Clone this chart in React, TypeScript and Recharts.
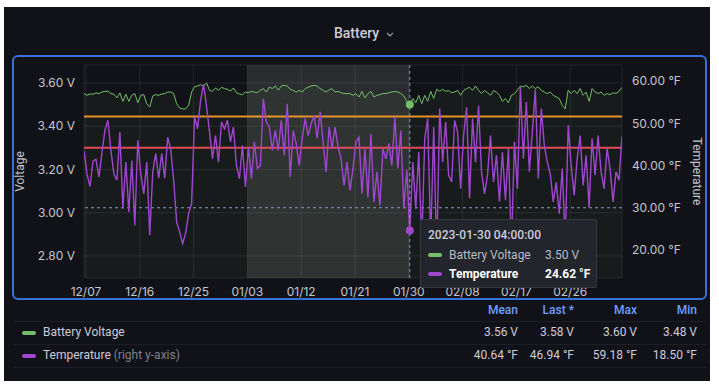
import React from "react";
import {
  ComposedChart,
  Area,
  Line,
  XAxis,
  YAxis,
  CartesianGrid,
  Tooltip,
  ReferenceLine,
  ReferenceArea,
} from "recharts";

// 12h samples starting 2022-12-06 16:00 UTC
const START = Date.UTC(2022, 11, 6, 16, 0, 0);
const STEP = 12 * 3600 * 1000;

const tickDates = [
  "2022-12-07", "2022-12-16", "2022-12-25", "2023-01-03", "2023-01-12",
  "2023-01-21", "2023-01-30", "2023-02-08", "2023-02-17", "2023-02-26",
];

const voltageTicks = [2.8, 3.0, 3.2, 3.4, 3.6];
const tempTicks = [20, 30, 40, 50, 60];

const voltage = [
  3.551, 3.543, 3.549, 3.548, 3.554, 3.551, 3.558, 3.561, 3.563, 3.551,
  3.548, 3.531, 3.554, 3.515, 3.548, 3.515, 3.543, 3.551, 3.509, 3.543,
  3.546, 3.504, 3.489, 3.54, 3.546, 3.543, 3.549, 3.551, 3.558, 3.558,
  3.551, 3.504, 3.484, 3.48, 3.48, 3.497, 3.558, 3.583, 3.586, 3.592,
  3.586, 3.6, 3.566, 3.561, 3.577, 3.566, 3.58, 3.574, 3.571, 3.563,
  3.577, 3.555, 3.549, 3.546, 3.558, 3.555, 3.561, 3.558, 3.555, 3.566,
  3.574, 3.558, 3.581, 3.574, 3.586, 3.567, 3.586, 3.589, 3.586, 3.571,
  3.566, 3.558, 3.566, 3.558, 3.574, 3.58, 3.586, 3.589, 3.586, 3.574,
  3.566, 3.558, 3.568, 3.574, 3.558, 3.561, 3.555, 3.551, 3.551, 3.551,
  3.543, 3.551, 3.535, 3.561, 3.531, 3.551, 3.561, 3.535, 3.543, 3.546,
  3.551, 3.551, 3.555, 3.558, 3.561, 3.558, 3.551, 3.54, 3.515, 3.5,
  3.528, 3.509, 3.543, 3.504, 3.543, 3.515, 3.561, 3.528, 3.571, 3.561,
  3.571, 3.561, 3.565, 3.555, 3.558, 3.566, 3.543, 3.565, 3.574, 3.58,
  3.566, 3.586, 3.566, 3.551, 3.565, 3.555, 3.543, 3.565, 3.558, 3.543,
  3.515, 3.528, 3.509, 3.543, 3.551, 3.566, 3.586, 3.582, 3.589, 3.574,
  3.586, 3.574, 3.582, 3.566, 3.558, 3.551, 3.558, 3.543, 3.535, 3.528,
  3.497, 3.48, 3.566, 3.551, 3.566, 3.551, 3.574, 3.543, 3.558, 3.515,
  3.574, 3.558, 3.551, 3.558, 3.543, 3.551, 3.546, 3.555, 3.551, 3.561,
  3.58,
];

const temperature = [
  43.5, 38, 35, 41, 41.5, 37.3, 43, 48.3, 50.7, 43.6,
  38, 36.5, 47.9, 29.8, 40.8, 29, 41.2, 25.8, 46, 38,
  33.3, 40.8, 23.5, 38.5, 42.8, 37, 42.8, 37, 46.7, 44,
  36.5, 26.6, 24.3, 21.5, 24, 28.6, 31, 51.5, 48.7, 55.4,
  59.18, 54, 47.9, 41.6, 47.1, 40.8, 50.3, 48.7, 50.7, 45.6,
  49.1, 40, 36.9, 44.8, 34.9, 44.4, 36.9, 45.6, 39.3, 40,
  55.8, 50.3, 49.1, 43.6, 48.3, 43.6, 50.7, 42.4, 54.6, 37.3,
  48.3, 45.2, 40, 46.4, 51.1, 47.1, 49.9, 51.9, 46.4, 52.7,
  45.6, 38.5, 49.1, 44, 49.1, 44.4, 41.6, 35.3, 40.8, 34.1,
  39.3, 45.6, 46.7, 33.3, 44, 32.5, 47.5, 31.4, 38.5, 30.6,
  44, 41.6, 45.2, 40, 51.5, 39.3, 48.3, 29.8, 38.9, 24.62,
  40.8, 29.8, 43.2, 21, 46.4, 51.1, 22, 49.1, 18.5, 53.5,
  40.8, 50.3, 37.7, 36.1, 50.7, 47.9, 34.5, 47.1, 53.8, 32.2,
  51.1, 40.8, 54.2, 38.5, 33.3, 37.7, 47.1, 36.1, 42.4, 31.4,
  43.2, 31.8, 44, 20, 45.6, 34.5, 58.6, 41.6, 55, 38.5,
  47.9, 58, 36.9, 53.5, 44.8, 40.8, 38, 31.4, 36, 28.6,
  39.3, 22, 49.5, 40, 33, 41.6, 47.1, 35.3, 42.4, 30,
  46.4, 37.7, 47.1, 38.5, 34.5, 44, 39.3, 31.4, 38.5, 36.5,
  46.94,
];

const highlightFrom = "2023-01-03T00:00:00Z";
const hoverIndex = 109; // 2023-01-30 04:00
const crosshairTemp = 30;
const thresholdHigh = 3.445;
const thresholdLow = 3.3;

const statNames = ["Mean", "Last *", "Max", "Min"];
const voltageStats = ["3.56 V", "3.58 V", "3.60 V", "3.48 V"];
const tempStats = ["40.64 °F", "46.94 °F", "59.18 °F", "18.50 °F"];

const FONT = "Roboto, 'Noto Sans', sans-serif";
const TICK_FONT = "Inter, Roboto, sans-serif";
const TEXT = "#ccccdc";
const AXIS_TEXT = "#c4c5cd";
const GREEN = "#73bf69";
const PURPLE = "#a047d0";
const BG = "#111217";

const pad = (n: number) => String(n).padStart(2, "0");
const fmtTick = (t: number) => {
  const d = new Date(t);
  return `${pad(d.getUTCMonth() + 1)}/${pad(d.getUTCDate())}`;
};
const fmtFull = (t: number) => {
  const d = new Date(t);
  return `${d.getUTCFullYear()}-${pad(d.getUTCMonth() + 1)}-${pad(d.getUTCDate())} ${pad(
    d.getUTCHours()
  )}:${pad(d.getUTCMinutes())}:${pad(d.getUTCSeconds())}`;
};

function Swatch({ color }: { color: string }) {
  return (
    <span
      style={{
        display: "inline-block",
        width: 14,
        height: 4,
        borderRadius: 2,
        background: color,
        marginRight: 7,
        verticalAlign: "middle",
        flex: "none",
      }}
    />
  );
}

function HoverBox(props: any) {
  const { active, payload, label } = props;
  if (!active || !payload || !payload.length) return null;
  const row = payload[0].payload;
  return (
    <div
      style={{
        width: 177,
        height: 69,
        boxSizing: "border-box",
        background: "#22252b",
        border: "1px solid rgba(204,204,220,0.12)",
        borderRadius: 2,
        padding: "7px 7px",
        fontFamily: FONT,
        fontSize: 12,
        color: TEXT,
        whiteSpace: "nowrap",
      }}
    >
      <div style={{ lineHeight: "16px", fontWeight: 500, marginBottom: 2 }}>{fmtFull(label)}</div>
      <div style={{ display: "flex", alignItems: "center", height: 19, color: "#b9bac3" }}>
        <Swatch color={GREEN} />
        <span style={{ width: 96, flex: "none" }}>Battery Voltage</span>
        <span>{row.voltage.toFixed(2)} V</span>
      </div>
      <div style={{ display: "flex", alignItems: "center", height: 19, color: "#fff", fontWeight: 700 }}>
        <Swatch color={PURPLE} />
        <span style={{ width: 96, flex: "none" }}>Temperature</span>
        <span>{row.temperature.toFixed(2)} °F</span>
      </div>
    </div>
  );
}

const axisTitle = (text: string, side: "left" | "right") => (props: any) => {
  const vb = props.viewBox;
  const cx = side === "left" ? vb.x - 4 : vb.x + vb.width + 15;
  const cy = vb.y + vb.height / 2;
  return (
    <text
      x={cx}
      y={cy}
      transform={`rotate(${side === "left" ? -90 : 90} ${cx} ${cy})`}
      textAnchor="middle"
      dominantBaseline="central"
      fill={AXIS_TEXT}
      fontSize={12}
      fontFamily={FONT}
    >
      {text}
    </text>
  );
};

export default function App() {
  const data = voltage.map((v, i) => ({
    t: START + i * STEP,
    voltage: v,
    temperature: temperature[i],
  }));
  const end = START + (voltage.length - 1) * STEP;
  const ticks = tickDates.map((d) => Date.parse(d + "T00:00:00Z"));
  const tickStyle = { fill: AXIS_TEXT, fontSize: 12, fontFamily: TICK_FONT };

  const colRight = [518, 574, 637, 697];

  return (
    <div style={{ position: "relative", width: 719, height: 391, background: "#fff", fontFamily: FONT }}>
      <style>{"body{margin:0}"}</style>
      <div style={{ position: "absolute", left: 4, top: 7, width: 706, height: 374, background: BG }} />
      <div
        style={{
          position: "absolute",
          left: 0,
          width: 719,
          top: 24,
          paddingLeft: 10,
          boxSizing: "border-box",
          textAlign: "center",
          color: TEXT,
          fontSize: 14,
          fontWeight: 500,
          lineHeight: "18px",
        }}
      >
        Battery
        <svg width="10" height="10" viewBox="0 0 10 10" style={{ marginLeft: 6, verticalAlign: "middle" }}>
          <path d="M2 4 L5 7 L8 4" stroke="#9a9ba4" strokeWidth="1.2" fill="none" />
        </svg>
      </div>
      <div
        style={{
          position: "absolute",
          left: 12,
          top: 55,
          width: 695,
          height: 245,
          boxSizing: "border-box",
          border: "2px solid #3871dc",
          borderRadius: 6,
        }}
      />
      <div style={{ position: "absolute", left: 0, top: 0 }}>
        <ComposedChart
          width={719}
          height={391}
          data={data}
          margin={{ top: 65, right: 37, bottom: 83, left: 24 }}
        >
          <CartesianGrid yAxisId="left" stroke="rgba(204,204,220,0.1)" />
          <XAxis
            dataKey="t"
            type="number"
            domain={[START, end]}
            ticks={ticks}
            interval={0}
            tickFormatter={fmtTick}
            axisLine={false}
            tickLine={false}
            tickSize={0}
            tickMargin={9}
            height={30}
            tick={tickStyle}
            allowDataOverflow
          />
          <YAxis
            yAxisId="left"
            orientation="left"
            width={60}
            domain={[2.698, 3.683]}
            ticks={voltageTicks}
            tickFormatter={(v: number) => `${v.toFixed(2)} V`}
            axisLine={false}
            tickLine={false}
            tickSize={0}
            tickMargin={9}
            tick={tickStyle}
            allowDataOverflow
            label={{ content: axisTitle("Voltage", "left") }}
          />
          <YAxis
            yAxisId="right"
            orientation="right"
            width={60}
            domain={[13.37, 63.79]}
            ticks={tempTicks}
            tickFormatter={(v: number) => `${v.toFixed(2)} °F`}
            axisLine={false}
            tickLine={false}
            tickSize={0}
            tickMargin={10}
            tick={tickStyle}
            allowDataOverflow
            label={{ content: axisTitle("Temperature", "right") }}
          />
          <ReferenceArea
            yAxisId="left"
            x1={Date.parse(highlightFrom)}
            x2={data[hoverIndex].t}
            fill="#ffffff"
            fillOpacity={0.11}
            stroke="none"
          />
          <Area
            yAxisId="left"
            type="linear"
            dataKey="voltage"
            name="Battery Voltage"
            stroke={GREEN}
            strokeWidth={1}
            fill={GREEN}
            fillOpacity={0.06}
            dot={false}
            activeDot={{ r: 4, fill: GREEN, stroke: "none" }}
            isAnimationActive={false}
          />
          <ReferenceLine yAxisId="left" y={thresholdHigh} stroke="#e8912d" strokeWidth={2} />
          <ReferenceLine yAxisId="left" y={thresholdLow} stroke="#e04b55" strokeWidth={2} />
          <ReferenceLine yAxisId="right" y={crosshairTemp} stroke="#7d9cbc" strokeDasharray="3 3" strokeWidth={1} />
          <Line
            yAxisId="right"
            type="linear"
            dataKey="temperature"
            name="Temperature"
            stroke={PURPLE}
            strokeWidth={1.4}
            dot={false}
            activeDot={{ r: 4, fill: PURPLE, stroke: "none" }}
            isAnimationActive={false}
          />
          <Tooltip
            active
            defaultIndex={hoverIndex}
            position={{ x: 420, y: 219 }}
            cursor={{ stroke: "#7d9cbc", strokeDasharray: "3 3", strokeWidth: 1 }}
            content={<HoverBox />}
            isAnimationActive={false}
            wrapperStyle={{ outline: "none" }}
          />
        </ComposedChart>
      </div>

      {/* legend table */}
      <div style={{ position: "absolute", left: 0, top: 0, width: 719, height: 391, pointerEvents: "none", fontSize: 12 }}>
        {statNames.map((s, k) => (
          <div
            key={s}
            style={{ position: "absolute", top: 302, right: 719 - colRight[k], lineHeight: "16px", color: "#6e9fff", fontWeight: 500 }}
          >
            {s}
          </div>
        ))}
        {[321, 344, 367].map((y) => (
          <div key={y} style={{ position: "absolute", left: 14, width: 692, top: y, height: 1, background: "rgba(204,204,220,0.07)" }} />
        ))}
        <div style={{ position: "absolute", left: 22, top: 324, lineHeight: "16px", color: TEXT, whiteSpace: "nowrap" }}>
          <Swatch color={GREEN} />
          Battery Voltage
        </div>
        <div style={{ position: "absolute", left: 22, top: 347, lineHeight: "16px", color: TEXT, whiteSpace: "nowrap" }}>
          <Swatch color={PURPLE} />
          Temperature <span style={{ color: "rgba(204,204,220,0.6)" }}>(right y-axis)</span>
        </div>
        {voltageStats.map((s, k) => (
          <div key={"v" + k} style={{ position: "absolute", top: 324, right: 719 - colRight[k], lineHeight: "16px", color: TEXT }}>
            {s}
          </div>
        ))}
        {tempStats.map((s, k) => (
          <div key={"t" + k} style={{ position: "absolute", top: 347, right: 719 - colRight[k], lineHeight: "16px", color: TEXT }}>
            {s}
          </div>
        ))}
      </div>
    </div>
  );
}
